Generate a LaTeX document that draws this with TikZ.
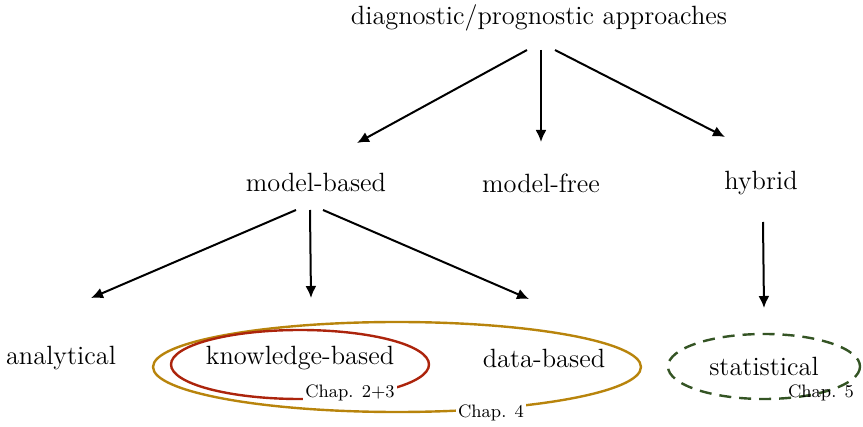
\documentclass[tikz,border=0pt]{standalone}
\usetikzlibrary{arrows.meta}
\definecolor{goldring}{RGB}{184,132,12}
\definecolor{redring}{RGB}{172,36,12}
\definecolor{greenring}{RGB}{52,84,36}
\tikzset{
  lbl/.style={font=\fontsize{13.2}{16}\selectfont, inner sep=1pt},
  chap/.style={font=\fontsize{9}{11}\selectfont, fill=white, inner sep=1pt},
  arr/.style={draw, line width=1pt, -{Latex[length=6pt,width=5.5pt]}},
}
\begin{document}
\begin{tikzpicture}[x=0.5pt,y=-0.5pt]
      \path[use as bounding box] (0,0) rectangle (863,427);
      % labels
      \node[lbl] at (539,18) (dpa) {diagnostic/prognostic approaches};
      \node[lbl] at (316,182) (mb) {model-based};
      \node[lbl] at (541,183) (mf) {model-free};
      \node[lbl] at (761,183) (hy) {hybrid};
      \node[lbl] at (61,358) (an) {analytical};
      \node[lbl] at (300,358) (kb) {knowledge-based};
      \node[lbl] at (544,358) (db) {data-based};
      \node[lbl] at (764,366) (st) {statistical};
      % rings round the classes
      \draw[goldring, line width=1.2pt] (397,367) ellipse (244 and 45);
      \draw[redring, line width=1.2pt] (300,364.5) ellipse (129 and 34.5);
      \draw[greenring, line width=1.2pt, dash pattern=on 6pt off 4pt] (764,366.5) ellipse (96 and 32.5);
      \node[chap] at (350,393) (c23) {Chap. 2+3};
      \node[chap] at (491,413) (c4) {Chap. 4};
      \node[chap, fill=none] at (821,393) (c5) {Chap. 5};
      % arrow ends
      \coordinate (t1) at (527,50);
      \coordinate (t2) at (541,50);
      \coordinate (t3) at (555,50);
      \coordinate (m1) at (357,143);
      \coordinate (m2) at (541,142);
      \coordinate (m3) at (725,137);
      \coordinate (b1) at (296,210);
      \coordinate (b2) at (310,210);
      \coordinate (b3) at (323,210);
      \coordinate (a1) at (91,298);
      \coordinate (a2) at (311,298);
      \coordinate (a3) at (529,299);
      \coordinate (h1) at (763,222);
      \coordinate (h2) at (764,308);
      \path[arr] (t1) -- (m1);
      \path[arr] (t2) -- (m2);
      \path[arr] (t3) -- (m3);
      \path[arr] (b1) -- (a1);
      \path[arr] (b2) -- (a2);
      \path[arr] (b3) -- (a3);
      \path[arr] (h1) -- (h2);
    \end{tikzpicture}
\end{document}
